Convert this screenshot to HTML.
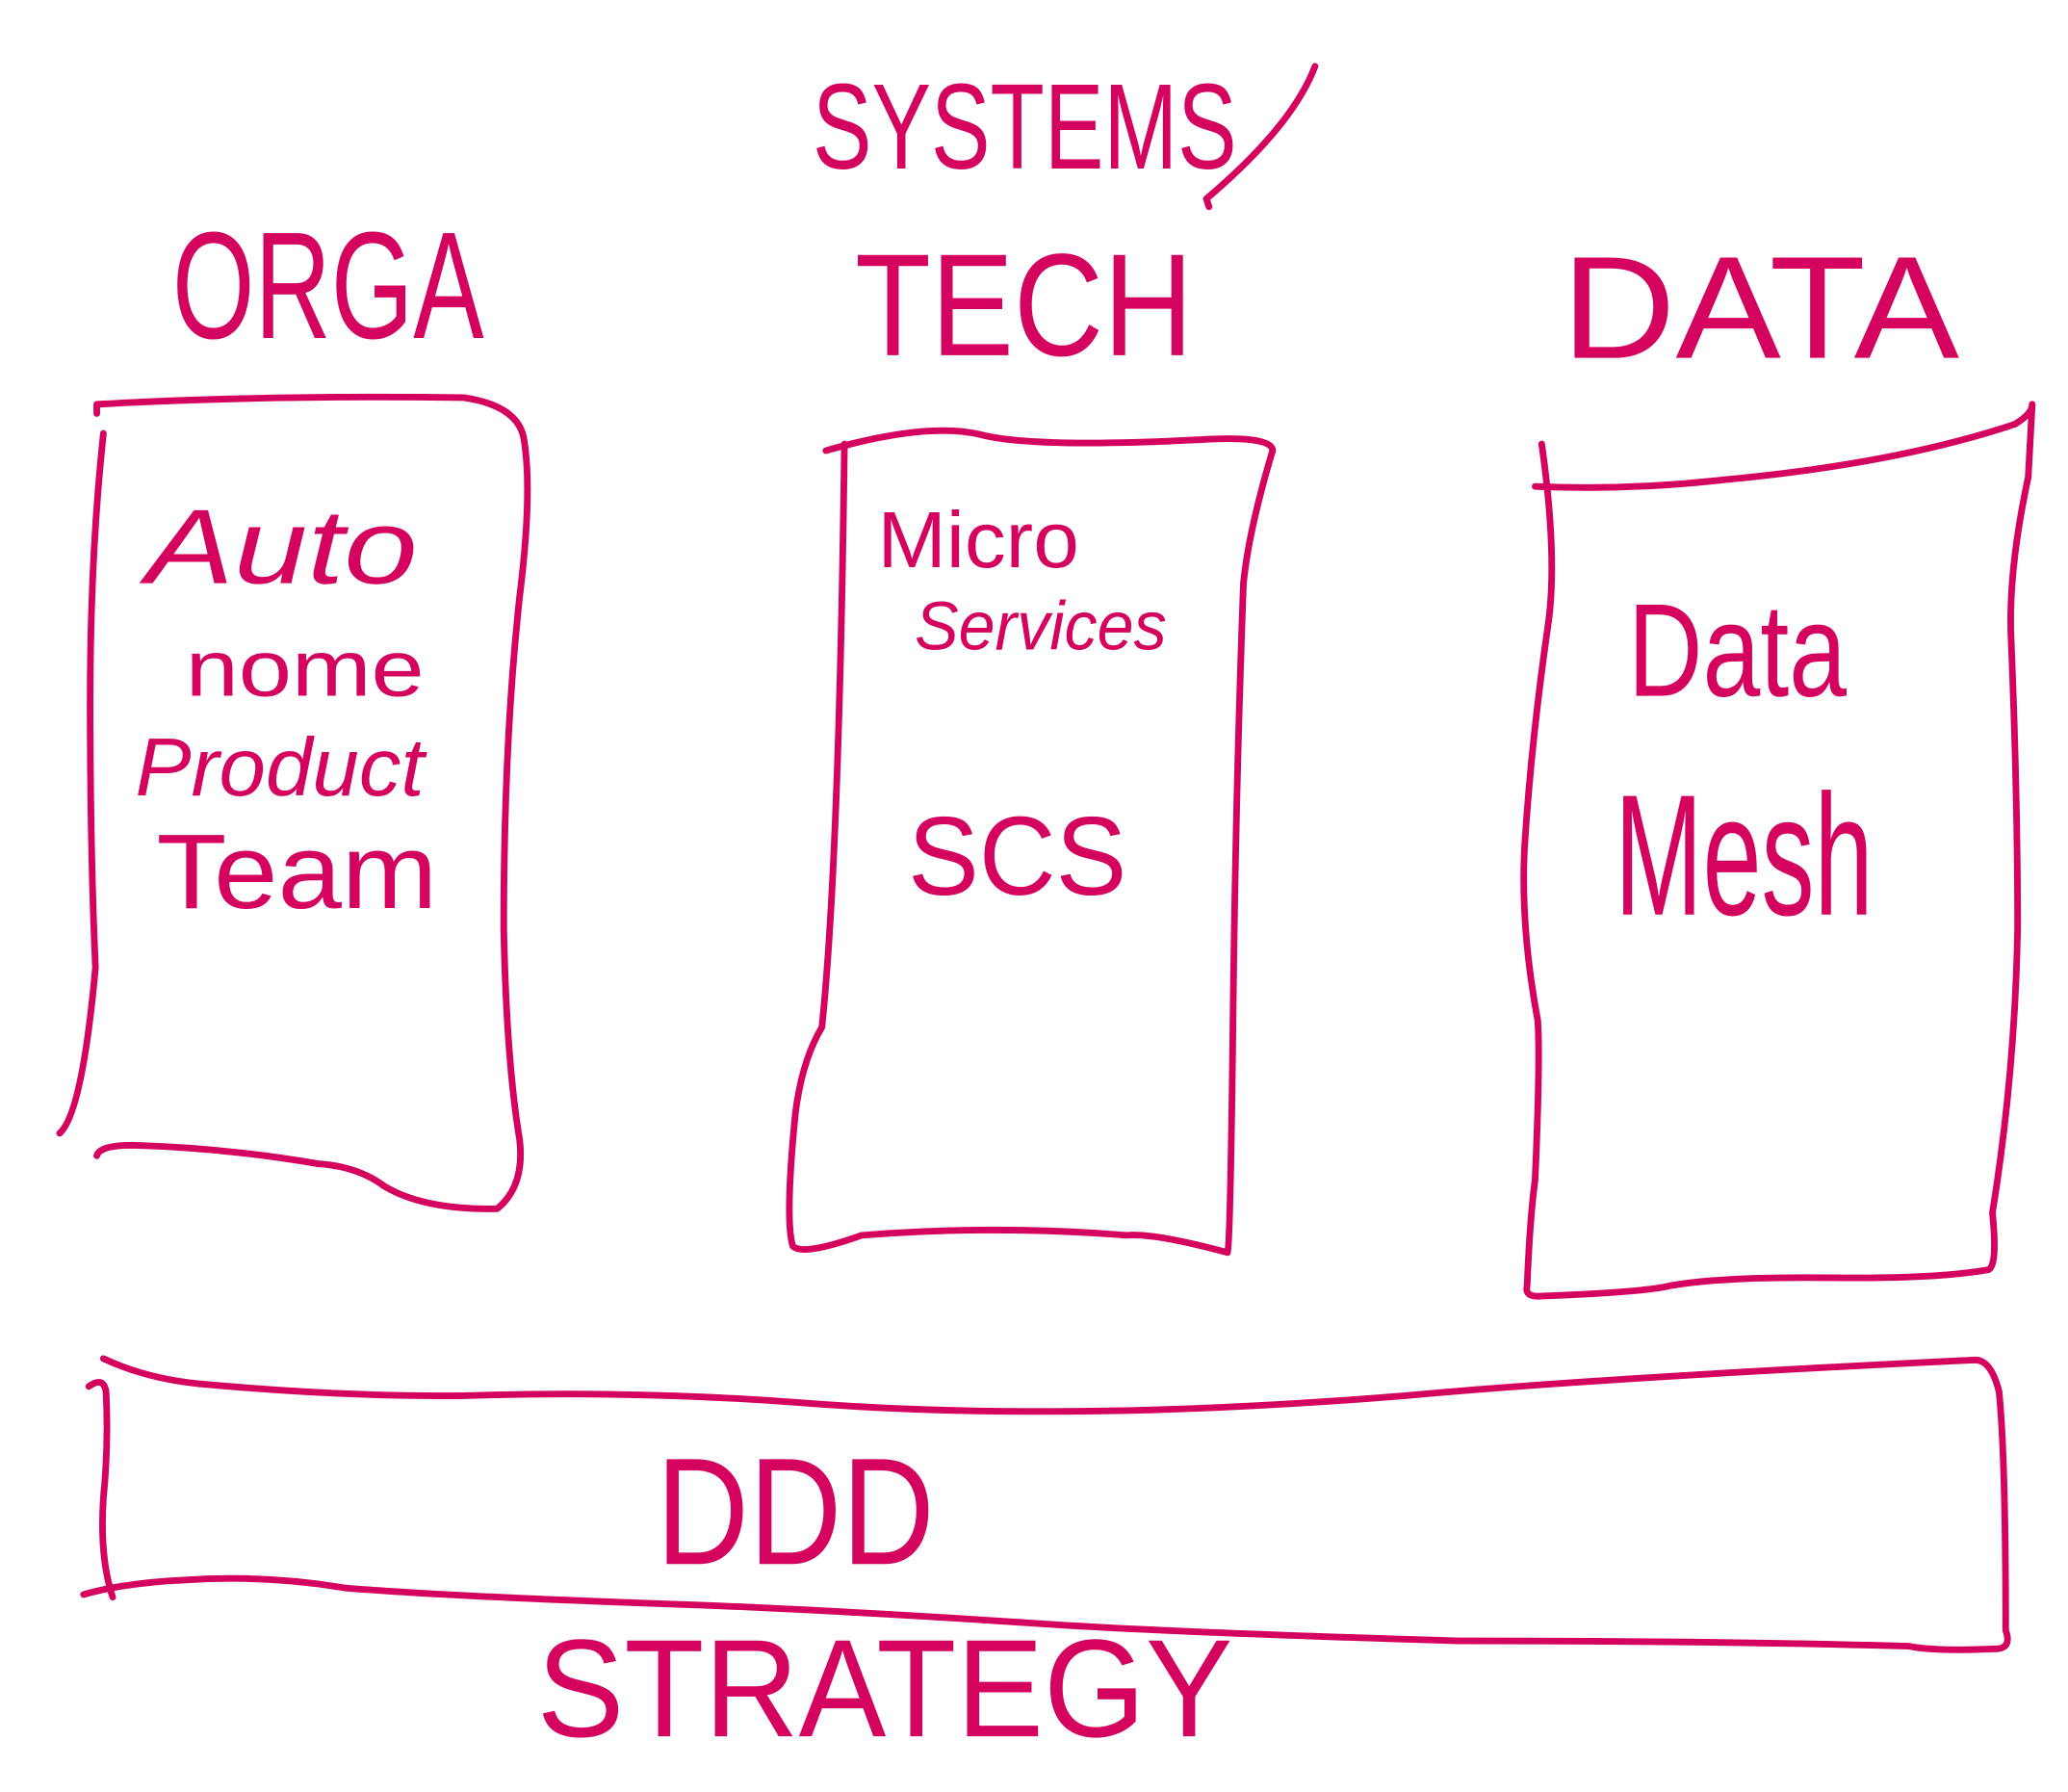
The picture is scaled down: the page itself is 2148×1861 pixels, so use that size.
<!DOCTYPE html>
<html><head><meta charset="utf-8"><style>
html,body{margin:0;padding:0;background:#fff;}
svg{display:block;}
text{font-family:"Liberation Sans",sans-serif;fill:#d4035f;}
</style></head><body>
<svg width="2148" height="1861" viewBox="0 0 1560 1352" preserveAspectRatio="none" xmlns="http://www.w3.org/2000/svg">
<g fill="none" stroke="#d4035f" stroke-width="5" stroke-linecap="round" stroke-linejoin="round">
<path d="M73,312 L73,305 Q200,298 350,300 Q390,306 395,330 Q402,370 392,450 Q380,560 380,700 Q382,800 392,860 Q396,895 375,912 Q320,913 290,895 Q270,880 240,878 Q170,866 100,864 Q75,864 73,872"/>
<path d="M78,327 Q68,420 68,530 Q68,640 72,730 Q62,840 45,855"/>
<path d="M623,340 Q700,318 740,328 Q780,338 900,332 Q960,328 960,340 Q942,400 938,440 Q932,600 930,780 Q928,940 926,945 Q870,930 850,932 Q750,924 650,932 Q605,948 598,940 Q592,920 600,840 Q605,800 620,775 Q633,650 637,335"/>
<path d="M1158,367 Q1230,370 1300,362 Q1430,350 1520,320 Q1533,312 1533,305 L1530,360 Q1515,430 1517,480 Q1522,600 1522,700 Q1520,810 1503,915 Q1507,955 1500,958 Q1460,965 1380,964 Q1300,963 1260,970 Q1240,975 1160,978 Q1150,978 1152,970 Q1154,920 1158,890 Q1162,800 1160,770 Q1147,700 1150,640 Q1155,560 1168,470 Q1175,420 1163,335"/>
<path d="M78,1025 Q110,1040 150,1044 Q260,1054 350,1053 Q480,1049 600,1058 Q800,1074 1060,1053 Q1200,1040 1490,1026 Q1502,1026 1508,1050 Q1513,1100 1513,1230 Q1518,1244 1505,1244 Q1460,1246 1440,1242 Q1300,1238 1100,1238 Q900,1232 800,1226 Q620,1214 500,1210 Q330,1204 260,1198 Q200,1188 140,1192 Q95,1194 63,1203"/>
<path d="M67,1046 Q78,1038 80,1050 Q82,1090 78,1130 Q75,1175 85,1205"/>
<path d="M992,50 Q975,95 910,150 L912,156"/>
</g>
<g>
<text x="613" y="127" font-size="92" textLength="320" lengthAdjust="spacingAndGlyphs">SYSTEMS</text>
<text x="130" y="255" font-size="115" textLength="235" lengthAdjust="spacingAndGlyphs">ORGA</text>
<text x="645" y="268" font-size="110" textLength="255" lengthAdjust="spacingAndGlyphs">TECH</text>
<text x="1178" y="270" font-size="110" textLength="300" lengthAdjust="spacingAndGlyphs">DATA</text>
<text x="110" y="440" font-size="80" textLength="205" lengthAdjust="spacingAndGlyphs" font-style="italic">Auto</text>
<text x="140" y="525" font-size="60" textLength="180" lengthAdjust="spacingAndGlyphs">nome</text>
<text x="102" y="600" font-size="62" textLength="218" lengthAdjust="spacingAndGlyphs" font-style="italic">Product</text>
<text x="118" y="685" font-size="80" textLength="212" lengthAdjust="spacingAndGlyphs">Team</text>
<text x="662" y="428" font-size="60" textLength="152" lengthAdjust="spacingAndGlyphs">Micro</text>
<text x="690" y="490" font-size="52" textLength="190" lengthAdjust="spacingAndGlyphs" font-style="italic">Services</text>
<text x="685" y="675" font-size="84" textLength="165" lengthAdjust="spacingAndGlyphs">SCS</text>
<text x="1228" y="525" font-size="100" textLength="165" lengthAdjust="spacingAndGlyphs">Data</text>
<text x="1218" y="690" font-size="130" textLength="195" lengthAdjust="spacingAndGlyphs">Mesh</text>
<text x="495" y="1180" font-size="115" textLength="210" lengthAdjust="spacingAndGlyphs">DDD</text>
<text x="405" y="1310" font-size="105" textLength="525" lengthAdjust="spacingAndGlyphs">STRATEGY</text>
</g>
</svg>
</body></html>
